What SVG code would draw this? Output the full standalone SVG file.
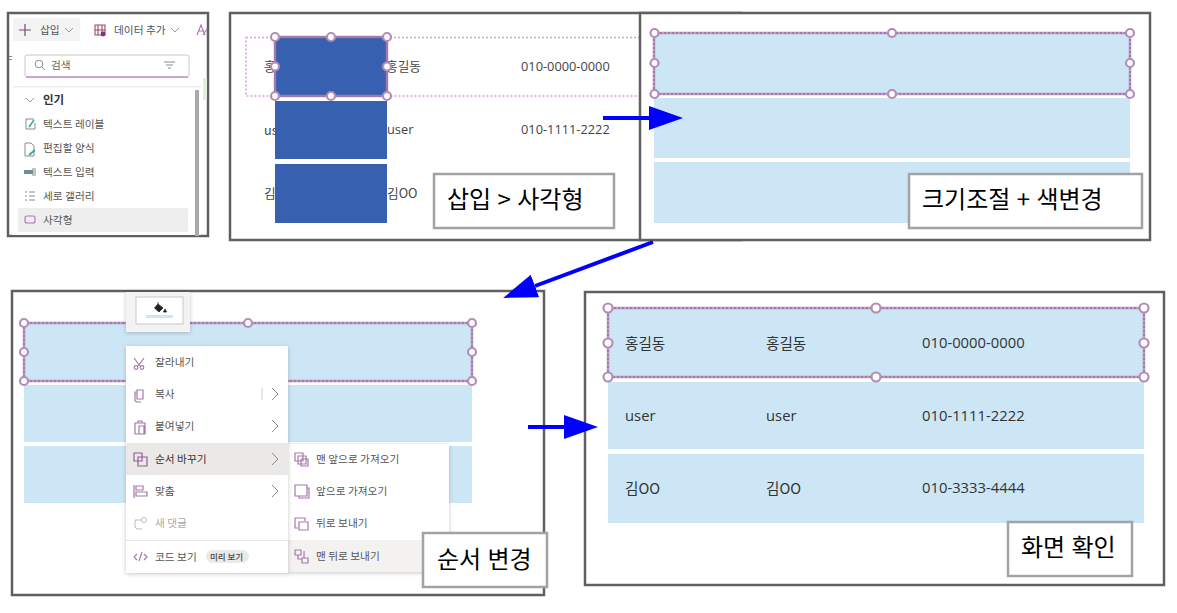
<svg xmlns="http://www.w3.org/2000/svg" width="1177" height="613" viewBox="0 0 1177 613">
<style>
text{font-family:"Noto Sans CJK KR","Noto Sans",sans-serif;fill:#444;dominant-baseline:central;transform:translateY(-.8px)}
.frame{fill:#fff;stroke:#606060;stroke-width:2.5}
.tag{fill:#fff;stroke:#a3a3a3;stroke-width:2.5}
.tagt{font-size:24px;fill:#000;dominant-baseline:auto;transform:none;word-spacing:1px}
.lb{fill:#cce6f5}
.blue{fill:#3760b0}
.sel{fill:none;stroke:#a678aa;stroke-width:2.4}
.dots{fill:none;stroke:#cfa6d4;stroke-width:1.6;stroke-dasharray:2 2}
.seld{fill:none;stroke:#e4d3e6;stroke-width:.8;stroke-dasharray:2 2}
.h{fill:#fff;stroke:#b48cb8;stroke-width:2.2}
.cell{font-size:14.6px;fill:#333}
.cellf{font-family:"Open Sans","Noto Sans CJK KR",sans-serif;font-size:14.8px;fill:#333}
.cell2{font-size:12.7px;fill:#444}
.cell2f{font-family:"Open Sans","Noto Sans CJK KR",sans-serif;font-size:12.8px;fill:#444}
.m{font-size:10.7px;fill:#555}
.ico{fill:none;stroke:#a678aa;stroke-width:1.2}
.gr{fill:none;stroke:#8a8a8a;stroke-width:1}
.cv{fill:none;stroke:#999;stroke-width:1}
.cn{fill:none;stroke:#0000ff;stroke-width:4}
</style>
<defs>
<marker id="ah" viewBox="0 0 34 24" refX="0" refY="12" markerWidth="34" markerHeight="24" markerUnits="userSpaceOnUse" orient="auto"><path d="M0 0L34 12L0 24Z" fill="#0000ff"/></marker>
<filter id="sh" x="-10%" y="-10%" width="120%" height="120%"><feDropShadow dx="0" dy="1" stdDeviation="2" flood-color="#000" flood-opacity=".22"/></filter>
</defs>

<g id="panel-insert">
<rect class="frame" x="8" y="13" width="200" height="223"/>
<rect x="13" y="18" width="67" height="23" fill="#f3f3f3"/>
<path d="M25 24v12M19 30h12" stroke="#7a4a80" stroke-width="1.2" fill="none"/>
<text class="m" x="40" y="30">삽입</text>
<path class="cv" d="M65 28l4 4 4-4"/>
<path d="M95 25h10v10h-10zM95 30h10M98 25v10M102 25v10" fill="none" stroke="#a0456a" stroke-width="1.1"/><circle cx="103" cy="34" r="2.400" fill="#7a3a70"/>
<text class="m" x="114" y="30">데이터 추가</text>
<path class="cv" d="M171 28l4 4 4-4"/>
<path d="M197 35l4-10 4 10M199 31h4M203 35l4-6" fill="none" stroke="#a678aa" stroke-width="1.1"/>
<rect x="9" y="56" width="3" height="1" fill="#888"/><rect x="9" y="59" width="3" height="1" fill="#888"/>
<rect x="203" y="78" width="4" height="22" fill="#e2efdc"/>
<rect x="13" y="42" width="188" height="193" fill="#fff"/>
<rect x="25" y="55" width="164" height="22" rx="2" fill="#fff" stroke="#c8c8c8"/>
<path d="M26 77h162" stroke="#c58fd0" stroke-width="1.400"/>
<circle cx="39" cy="64" r="3.800" class="gr"/><path class="gr" d="M42 67l3 3"/>
<text class="m" x="51" y="65" style="fill:#666">검색</text>
<path class="gr" d="M164 62h11M166 65h7M168 68h3"/>
<rect x="13" y="86" width="188" height="1.500" fill="#eee"/>
<rect x="195" y="90" width="4" height="146" fill="#aaa"/>
<path class="cv" d="M26 98l4 4 4-4"/>
<text x="43" y="100" style="font-size:11.500px;font-weight:700;fill:#333">인기</text>
<rect x="18" y="208" width="170" height="24" rx="2" fill="#eee"/>
<text class="m" x="43" y="124">텍스트 레이블</text>
<text class="m" x="43" y="148">편집할 양식</text>
<text class="m" x="43" y="172">텍스트 입력</text>
<text class="m" x="43" y="196">세로 갤러리</text>
<text class="m" x="43" y="220">사각형</text>
<path class="gr" d="M26 119h8M26 119v10h9v-6"/><path d="M29 127l5-7" stroke="#35a6a0" stroke-width="1.600"/>
<path class="gr" d="M25 143h6l3 3v10h-9z"/><path d="M29 155l6-5" stroke="#35a6a0" stroke-width="1.800"/>
<rect x="24" y="170" width="9" height="4" fill="#6a8f9a"/><path class="gr" d="M33 168v8M35 168v8"/>
<path class="gr" d="M25 192h2M25 196h2M25 200h2M29 192h6M29 196h6M29 200h6"/>
<rect x="25" y="216" width="10" height="7" rx="2" fill="none" stroke="#a678aa" stroke-width="1.100"/>
</g>

<g id="panel-rect">
<rect class="frame" x="230" y="13" width="511" height="227"/>
<rect class="dots" x="246" y="37.500" width="394" height="58.500"/>
<text class="cell2" x="264" y="66">홍길동</text>
<text class="cell2" x="264" y="130">user</text>
<text class="cell2" x="264" y="193">김OO</text>
<text class="cell2" x="386" y="66">홍길동</text>
<text class="cell2f" x="387" y="130">user</text>
<text class="cell2" x="387" y="193">김OO</text>
<text class="cell2f" x="521" y="67">010-0000-0000</text>
<text class="cell2f" x="521" y="130">010-1111-2222</text>
<rect class="blue" x="275" y="37" width="112" height="59"/>
<rect class="blue" x="275" y="101" width="112" height="58"/>
<rect class="blue" x="275" y="164" width="112" height="59"/>
<rect class="sel" x="275" y="37" width="112" height="59"/>
<circle class="h" cx="275" cy="37" r="4"/><circle class="h" cx="331" cy="37" r="4"/><circle class="h" cx="387" cy="37" r="4"/>
<circle class="h" cx="275" cy="66.500" r="4"/><circle class="h" cx="387" cy="66.500" r="4"/>
<circle class="h" cx="275" cy="96" r="4"/><circle class="h" cx="331" cy="96" r="4"/><circle class="h" cx="387" cy="96" r="4"/>
<rect class="tag" x="434" y="174" width="180" height="54"/>
<text class="tagt" x="447" y="208">삽입 &gt; 사각형</text>
</g>

<g id="panel-resize">
<rect class="frame" x="640" y="13" width="510" height="227"/>
<rect class="lb" x="654" y="33" width="476" height="61"/>
<rect class="lb" x="654" y="98" width="476" height="60"/>
<rect class="lb" x="654" y="162" width="476" height="61"/>
<rect class="sel" x="654" y="33" width="476" height="61"/>
<rect class="seld" x="654" y="33" width="476" height="61"/>
<circle class="h" cx="654.500" cy="33" r="4"/><circle class="h" cx="892" cy="33" r="4"/><circle class="h" cx="1130" cy="33" r="4"/>
<circle class="h" cx="654.500" cy="63" r="4"/><circle class="h" cx="1130" cy="63" r="4"/>
<circle class="h" cx="654.500" cy="94" r="4"/><circle class="h" cx="892" cy="94" r="4"/><circle class="h" cx="1130" cy="94" r="4"/>
<rect class="tag" x="909" y="174" width="233" height="54"/>
<text class="tagt" x="922" y="208">크기조절 + 색변경</text>
</g>

<g id="panel-order">
<rect class="frame" x="12" y="291" width="532" height="304"/>
<rect class="lb" x="24" y="323" width="448" height="58"/>
<rect class="lb" x="24" y="385" width="448" height="57"/>
<rect class="lb" x="24" y="446" width="448" height="57"/>
<rect class="sel" x="24" y="323" width="448" height="58"/>
<rect class="seld" x="24" y="323" width="448" height="58"/>
<circle class="h" cx="24" cy="323" r="4"/><circle class="h" cx="248" cy="323" r="4"/><circle class="h" cx="472" cy="323" r="4"/>
<circle class="h" cx="24" cy="352" r="4"/><circle class="h" cx="472" cy="352" r="4"/>
<circle class="h" cx="24" cy="381" r="4"/><circle class="h" cx="472" cy="381" r="4"/>
<rect x="126" y="292" width="64" height="40" fill="#f3f3f3" filter="url(#sh)"/>
<rect x="136" y="297" width="47" height="27" fill="#fff" stroke="#c8c8c8"/>
<path d="M158 304l-3.500 4 4.500 4 4-4zM158 304v-2M165 309l1.500 3h-3z" fill="#222" stroke="#222" stroke-width=".8"/>
<rect x="146" y="315" width="27" height="3" fill="#cce6f5"/>
<rect x="287" y="444" width="162" height="128" fill="#fff" filter="url(#sh)"/>
<rect x="287" y="540" width="162" height="32" fill="#f3f2f1"/>
<rect x="126" y="346" width="162" height="227" fill="#fff" filter="url(#sh)"/>
<rect x="126" y="443" width="162" height="32" fill="#ebe9e7"/>
<path d="M126 540.500h162" stroke="#e6e6e6"/>
<text class="m" x="155" y="362">잘라내기</text>
<text class="m" x="155" y="394">복사</text>
<text class="m" x="155" y="426">붙여넣기</text>
<text class="m" x="155" y="459" style="fill:#333">순서 바꾸기</text>
<text class="m" x="155" y="491">맞춤</text>
<text class="m" x="155" y="523" style="fill:#aaa">새 댓글</text>
<text class="m" x="155" y="557">코드 보기</text>
<rect x="206" y="550" width="43" height="13" rx="6.500" fill="#eaeaea"/>
<text x="210" y="557" style="font-size:8.500px;font-weight:500;fill:#444">미리 보기</text>
<path class="ico" d="M134 358l6 8M144 358l-6 8"/><circle class="ico" cx="136" cy="367.500" r="1.800"/><circle class="ico" cx="142" cy="367.500" r="1.800"/>
<path class="ico" d="M137 390h6v9h-6zM137 392h-2v9l2 1h4"/>
<path class="ico" d="M135 423h10v11h-10zM139 426h5v8h-5zM138 423v-2h4v2"/>
<path class="ico" d="M134 453h8v8h-8zM138 457h9v9h-9z" style="stroke:#8f5f95"/>
<path class="ico" d="M134 485v13M136 486h7v4h-7zM136 492h11v4h-11z"/>
<path d="M135 520h6M135 520v7l2 2h5" fill="none" stroke="#bbb"/><circle cx="144" cy="520" r="2.500" fill="none" stroke="#bbb"/>
<path class="ico" d="M134 557l3-3M134 557l3 3M144 554l3 3-3 3M139 561l3-9"/>
<path class="cv" d="M272 388l6 6-6 6M272 420l6 6-6 6M272 453l6 6-6 6M272 485l6 6-6 6" style="stroke:#8a8a8a"/>
<path d="M262 388v12" stroke="#ccc"/>
<text class="m" x="316" y="459">맨 앞으로 가져오기</text>
<text class="m" x="316" y="491">앞으로 가져오기</text>
<text class="m" x="316" y="523">뒤로 보내기</text>
<text class="m" x="316" y="556">맨 뒤로 보내기</text>
<path class="ico" d="M295 453h8v8h-8zM298 456h8v8h-8zM301 459h7v7h-7z"/>
<path class="ico" d="M295 485h12v11h-12zM299 496v2h10v-10h-2"/>
<path class="ico" d="M295 518h10v3M295 518v10h3M299 522h9v8h-9z"/>
<path class="ico" d="M295 550h6v5h-6zM302 558h6v5h-6zM298 555v4h4M304 551v7"/>
<rect class="tag" x="423" y="533" width="124" height="54"/>
<text class="tagt" x="437" y="568">순서 변경</text>
</g>

<g id="panel-result">
<rect class="frame" x="585" y="292" width="579" height="293"/>
<rect class="lb" x="608" y="308" width="536" height="69"/>
<rect class="lb" x="608" y="382" width="536" height="67"/>
<rect class="lb" x="608" y="454" width="536" height="69"/>
<rect class="sel" x="608" y="308" width="536" height="69"/>
<rect class="seld" x="608" y="308" width="536" height="69"/>
<circle class="h" cx="608" cy="308" r="4.500"/><circle class="h" cx="876" cy="308" r="4.500"/><circle class="h" cx="1144" cy="308" r="4.500"/>
<circle class="h" cx="608" cy="343" r="4.500"/><circle class="h" cx="1144" cy="343" r="4.500"/>
<circle class="h" cx="608" cy="377" r="4.500"/><circle class="h" cx="876" cy="377" r="4.500"/><circle class="h" cx="1144" cy="377" r="4.500"/>
<text class="cell" x="625" y="343">홍길동</text>
<text class="cell" x="766" y="343">홍길동</text>
<text class="cellf" x="922" y="343">010-0000-0000</text>
<text class="cellf" x="625" y="416">user</text>
<text class="cellf" x="766" y="416">user</text>
<text class="cellf" x="922" y="416">010-1111-2222</text>
<text class="cell" x="625" y="488">김OO</text>
<text class="cell" x="766" y="488">김OO</text>
<text class="cellf" x="922" y="488">010-3333-4444</text>
<rect class="tag" x="1008" y="522" width="124" height="54"/>
<text class="tagt" x="1021" y="556">화면 확인</text>
</g>

<g id="connectors">
<path class="cn" d="M603 118H649" marker-end="url(#ah)"/>
<path class="cn" d="M653 242L535 286" marker-end="url(#ah)"/>
<path class="cn" d="M528 427H564" marker-end="url(#ah)"/>
</g>
</svg>
